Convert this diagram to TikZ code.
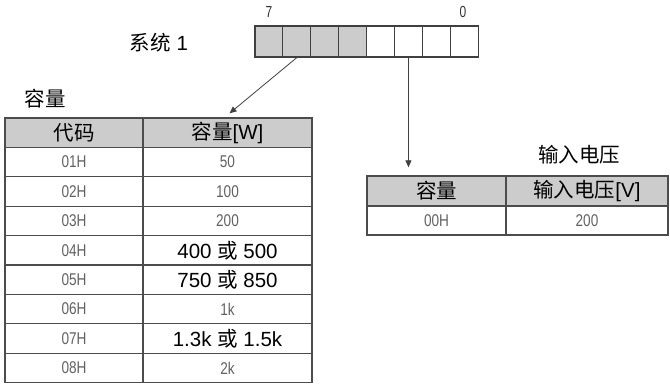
\documentclass[tikz,border=0pt]{standalone}
\usepackage{fontspec}
\usepackage{graphicx}
\setmainfont{Liberation Sans}
\newfontfamily\cjk{Noto Sans CJK SC}
\usetikzlibrary{arrows.meta, positioning}

\newcommand{\zh}[1]{{\cjk #1}}
\newcommand{\faint}[1]{{\fontsize{17}{19}\selectfont\textcolor{black!62}{\scalebox{0.8}[1]{#1}}}}

\begin{document}
\begin{tikzpicture}[
  x=1pt, y=-1pt,
  font=\fontsize{20.5}{24}\selectfont,
  cellule/.style={
    draw=black!70,
    line width=1.3pt,
    inner sep=0pt,
    minimum height=29.4pt,
    anchor=center
  },
  entete/.style={
    cellule,
    fill=black!20
  },
  bitcase/.style={
    draw=black!75,
    line width=1.1pt,
    inner sep=0pt,
    minimum width=27.9pt,
    minimum height=31pt
  },
  fleche/.style={
    -{Triangle[length=7pt, width=6pt]},
    line width=0.8pt,
    draw=black!75
  },
  titre/.style={
    inner sep=1pt
  }
]
  \useasboundingbox (0,0) rectangle (670,387);

  % Registre de bits
  \foreach \i in {0,...,7} {
    \ifnum\i<4
      \node[bitcase, fill=black!20] (r\i) at ({268.95+27.9*\i},41.5) {};
    \else
      \node[bitcase, fill=white] (r\i) at ({268.95+27.9*\i},41.5) {};
    \fi
  }
  \node[titre] (b7) at (269,12) {\scalebox{0.75}[1]{\fontsize{16}{18}\selectfont\textcolor{black!80}{7}}};
  \node[titre] (b0) at (463,12) {\scalebox{0.75}[1]{\fontsize{16}{18}\selectfont\textcolor{black!80}{0}}};
  \node[titre] (sys) at (159,43) {\zh{系统} 1};

  % Tableau de gauche
  \node[titre] (tcap) at (45,99) {\zh{容量}};
  \node[entete, minimum width=138pt] (h1) at (74,132.7) {\zh{代码}};
  \node[entete, minimum width=169pt] (h2) at (227.5,132.7) {\zh{容量}[W]};
  \foreach \code/\val [count=\i] in {01H/\faint{50}, 02H/\faint{100}, 03H/\faint{200},
      04H/{400 \zh{或} 500}, 05H/{750 \zh{或} 850}, 06H/\faint{1k},
      07H/{1.3k \zh{或} 1.5k}, 08H/\faint{2k}} {
    \node[cellule, minimum width=138pt] (c\i) at (74,{132.7+29.4*\i}) {\faint{\code}};
    \node[cellule, minimum width=169pt] (v\i) at (227.5,{132.7+29.4*\i}) {\val};
  }

  % Tableau de droite
  \node[titre] (tvolt) at (579,155) {\zh{输入电压}};
  \node[entete, minimum width=139pt, minimum height=30pt] (k1) at (436.5,191) {\zh{容量}};
  \node[entete, minimum width=162pt, minimum height=30pt] (k2) at (587,191) {\zh{输入电压}[V]};
  \node[cellule, minimum width=139pt, minimum height=29pt] (d1) at (436.5,220.5) {\faint{00H}};
  \node[cellule, minimum width=162pt, minimum height=29pt] (d2) at (587,220.5) {\faint{200}};

  % Fleches
  \draw[fleche] (r1.south) -- ([xshift=2pt, yshift=4pt]h2.north);
  \draw[fleche, shorten >=8pt] (r5.south) -- (r5.south |- k1.north);
\end{tikzpicture}
\end{document}
